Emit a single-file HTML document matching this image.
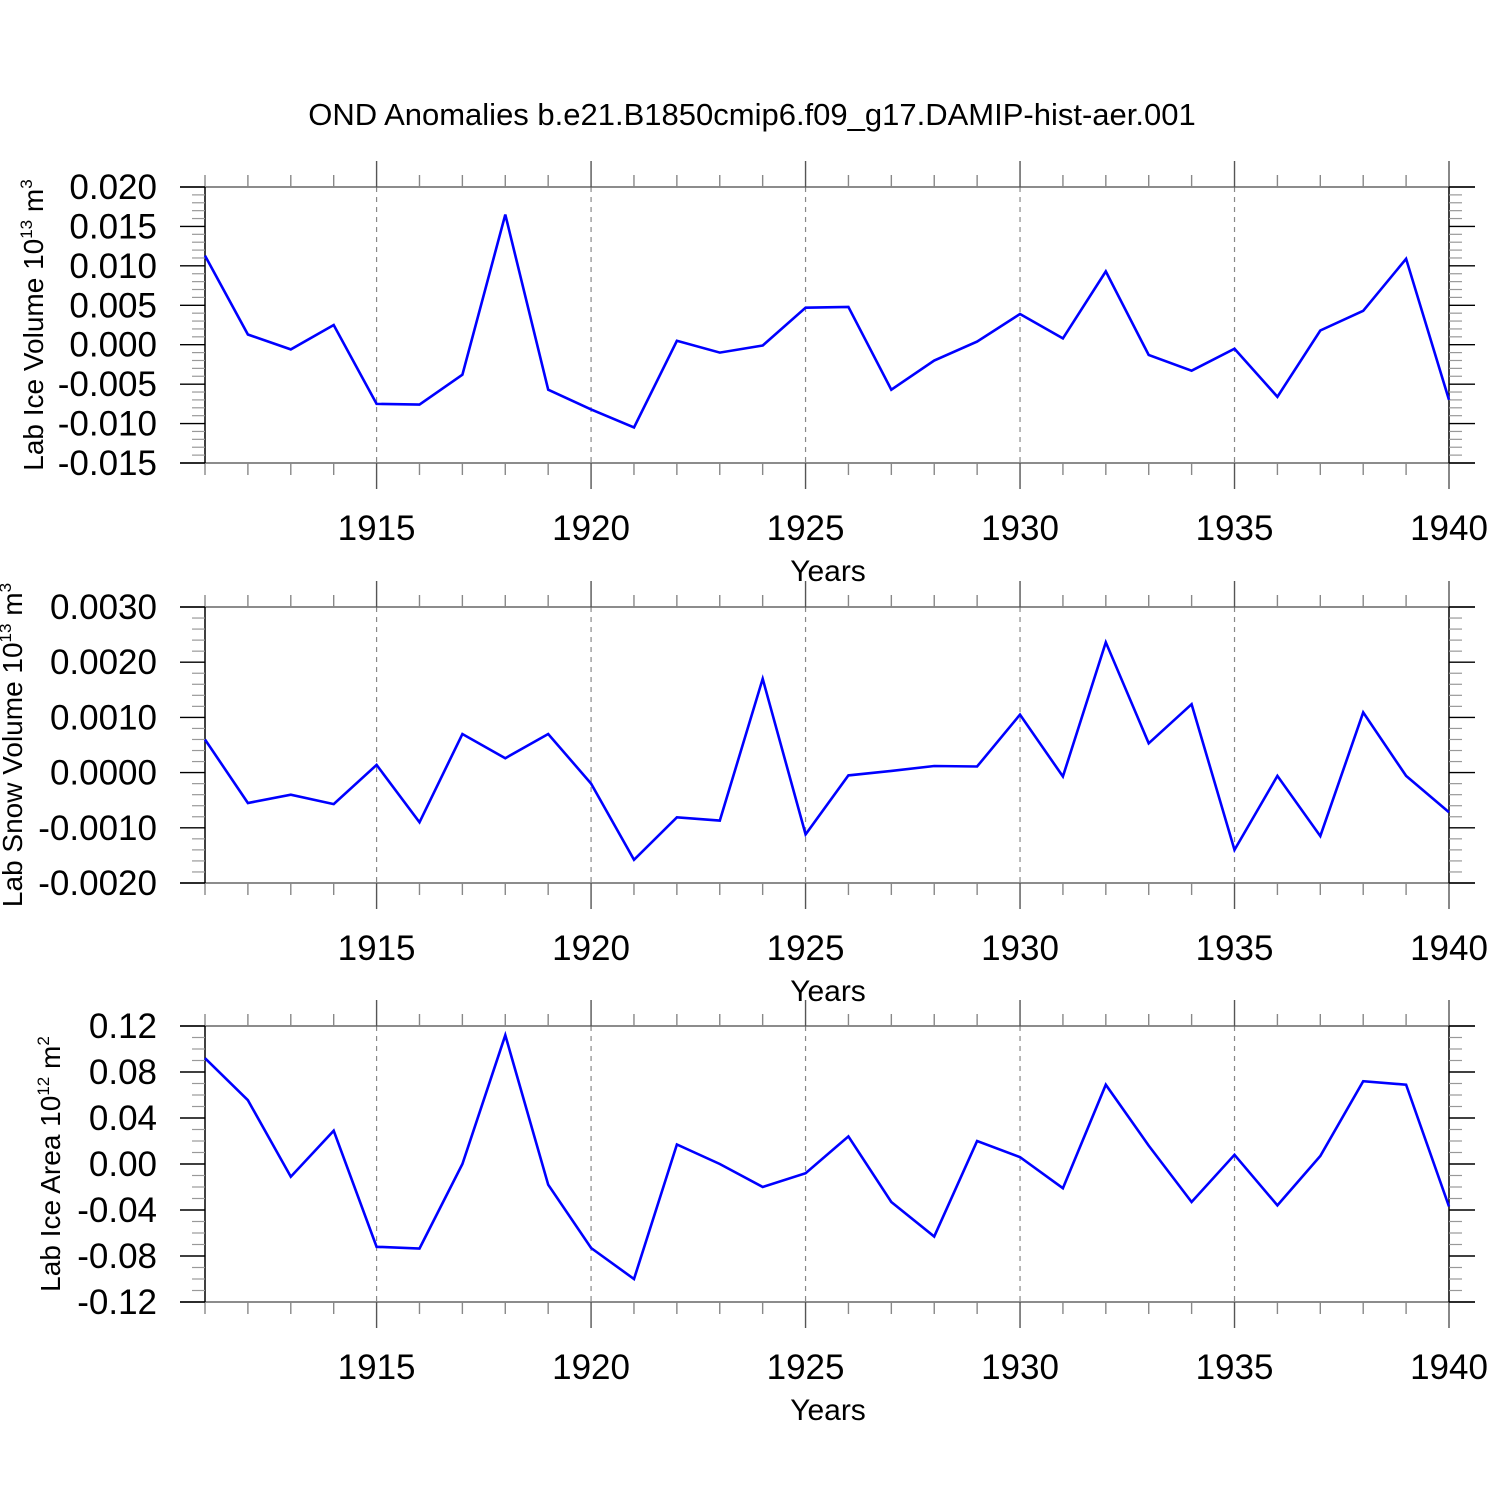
<!DOCTYPE html>
<html><head><meta charset="utf-8"><style>
body{margin:0;background:#fff;}
svg text{font-family:"Liberation Sans",sans-serif;fill:#000;}
</style></head><body>
<svg id="c" width="1500" height="1500" viewBox="0 0 1500 1500">
<text x="752" y="125" font-size="31" text-anchor="middle">OND Anomalies b.e21.B1850cmip6.f09_g17.DAMIP-hist-aer.001</text>
</svg>
<script>
const years=[1911,1912,1913,1914,1915,1916,1917,1918,1919,1920,1921,1922,1923,1924,1925,1926,1927,1928,1929,1930,1931,1932,1933,1934,1935,1936,1937,1938,1939,1940];
const iceVolume=[0.0113,0.0013,-0.0006,0.0025,-0.0075,-0.0076,-0.0038,0.0165,-0.0057,-0.0082,-0.0105,0.0005,-0.001,-0.0001,0.0047,0.0048,-0.0057,-0.002,0.0004,0.0039,0.0008,0.0093,-0.0013,-0.0033,-0.0005,-0.0066,0.0018,0.0043,0.0109,-0.007];
const snowVolume=[0.0006,-0.00055,-0.0004,-0.00057,0.00014,-0.0009,0.0007,0.00026,0.0007,-0.0002,-0.00158,-0.00081,-0.00087,0.0017,-0.00112,-0.00005,0.00003,0.00012,0.00011,0.00105,-0.00007,0.00236,0.00053,0.00124,-0.0014,-0.00006,-0.00115,0.00109,-0.00006,-0.00072];
const iceArea=[0.092,0.0555,-0.011,0.029,-0.072,-0.0735,0,0.112,-0.018,-0.073,-0.1,0.017,0,-0.02,-0.008,0.024,-0.033,-0.063,0.02,0.006,-0.021,0.069,0.016,-0.033,0.008,-0.036,0.007,0.072,0.069,-0.037];
const xTickLabels=[1915,1920,1925,1930,1935,1940];
const iceVolTicks=["0.020","0.015","0.010","0.005","0.000","-0.005","-0.010","-0.015"];
const snowTicks=["0.0030","0.0020","0.0010","0.0000","-0.0010","-0.0020"];
const areaTicks=["0.12","0.08","0.04","0.00","-0.04","-0.08","-0.12"];

const NS="http://www.w3.org/2000/svg";
const svg=document.getElementById('c');
function mk(t,a,p){const e=document.createElementNS(NS,t);for(const k in a)e.setAttribute(k,a[k]);(p||svg).appendChild(e);return e;}
const X0=180,X1=1475,AX0=205,AX1=1449;
function xs(yr){return AX0+(yr-1911)*(AX1-AX0)/29;}

function panel(top,bot,ymin,ymax,ticks,minorPer,vals,titleMain,sup,unit,name,titleX){
  const g=mk('g',{});
  
  
  const ys=v=>bot-(v-ymin)/(ymax-ymin)*(bot-top);
  for(const t of xTickLabels){ if(t>=1940)continue;
    const l=mk('line',{x1:xs(t),x2:xs(t),y1:top,y2:bot,stroke:'#888','stroke-width':1.2,'stroke-dasharray':'5,5'},g);
    
    
  }
  mk('line',{x1:X0,x2:X1,y1:top,y2:top,stroke:'#666','stroke-width':1.5},g);
  mk('line',{x1:X0,x2:X1,y1:bot,y2:bot,stroke:'#666','stroke-width':1.5},g);
  mk('line',{x1:AX0,x2:AX0,y1:top,y2:bot,stroke:'#000','stroke-width':1.5},g);
  mk('line',{x1:AX1,x2:AX1,y1:top,y2:bot,stroke:'#000','stroke-width':1.5},g);
  for(const yr of years){
    const major=yr%5===0, len=major?26:12, x=xs(yr);
    mk('line',{x1:x,x2:x,y1:top-len,y2:top,stroke:major?'#555':'#888','stroke-width':1.4},g);
    mk('line',{x1:x,x2:x,y1:bot,y2:bot+len,stroke:major?'#555':'#888','stroke-width':1.4},g);
  }
  for(const t of xTickLabels){
    const tx=mk('text',{x:xs(t),y:bot+77,'font-size':35,'text-anchor':'middle'},g);
    tx.textContent=t;
    
    
  }
  const yt=mk('text',{x:828,y:bot+118,'font-size':30,'text-anchor':'middle'},g);
  yt.textContent='Years';
  
  
  const n=ticks.length, step=(ymax-ymin)/(n-1);
  for(let i=0;i<n;i++){
    const v=ymax-i*step, y=ys(v);
    mk('line',{x1:X0,x2:AX0,y1:y,y2:y,stroke:'#000','stroke-width':1.4},g);
    mk('line',{x1:AX1,x2:X1,y1:y,y2:y,stroke:'#000','stroke-width':1.4},g);
    const tx=mk('text',{x:157,y:y+12,'font-size':35,'text-anchor':'end'},g);
    tx.textContent=ticks[i];
    
    
    if(i<n-1) for(let k=1;k<minorPer;k++){
      const ym=ys(v-k*step/minorPer);
      mk('line',{x1:192,x2:AX0,y1:ym,y2:ym,stroke:'#999','stroke-width':1.2},g);
      mk('line',{x1:AX1,x2:1462,y1:ym,y2:ym,stroke:'#999','stroke-width':1.2},g);
    }
  }
  const cy=(top+bot)/2;
  const tt=mk('text',{transform:`translate(${titleX},${cy}) rotate(-90)`,'font-size':28,'text-anchor':'middle'},g);
  
  
  tt.innerHTML=titleMain+' 10<tspan dy="-11" font-size="17">'+sup+'</tspan><tspan dy="11"> '+unit+'</tspan>';
  const pts=years.map((yr,i)=>xs(yr).toFixed(1)+','+ys(vals[i]).toFixed(1)).join(' ');
  const pl=mk('polyline',{points:pts,fill:'none',stroke:'#0000ff','stroke-width':2.6,'stroke-linejoin':'miter'},g);
  
  
}
panel(187,463,-0.015,0.020,iceVolTicks,5,iceVolume,'Lab Ice Volume','13','m<tspan dy="-11" font-size="17">3</tspan>','ice-volume',43);
panel(607,883,-0.002,0.003,snowTicks,5,snowVolume,'Lab Snow Volume','13','m<tspan dy="-11" font-size="17">3</tspan>','snow-volume',22);
panel(1026,1302,-0.12,0.12,areaTicks,4,iceArea,'Lab Ice Area','12','m<tspan dy="-11" font-size="17">2</tspan>','ice-area',60);
</script>
</body></html>
